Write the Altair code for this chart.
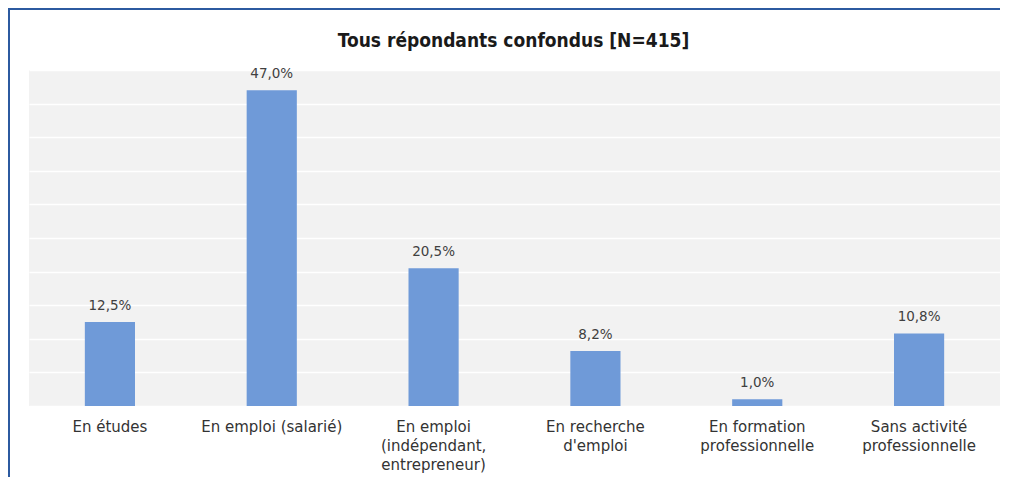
import altair as alt
import pandas as pd

categories = [
    "En études",
    "En emploi (salarié)",
    "En emploi\n(indépendant,\nentrepreneur)",
    "En recherche\nd'emploi",
    "En formation\nprofessionnelle",
    "Sans activité\nprofessionnelle",
]
values = [12.5, 47.0, 20.5, 8.2, 1.0, 10.8]
value_labels = ["12,5%", "47,0%", "20,5%", "8,2%", "1,0%", "10,8%"]
title_text = "Tous répondants confondus [N=415]"

df = pd.DataFrame({"cat": categories, "val": values, "lab": value_labels})
title_df = pd.DataFrame({"t": [title_text]})

FONT = "DejaVu Sans"
FRAME = "#2c5aa0"

x = alt.X(
    "cat:N",
    sort=categories,
    scale=alt.Scale(paddingInner=0.69, paddingOuter=0.345),
    axis=alt.Axis(
        title=None,
        labelAngle=0,
        ticks=False,
        domain=False,
        labelFont=FONT,
        labelFontSize=15,
        labelColor="#333333",
        labelPadding=13,
        labelBaseline="top",
        labelLineHeight=19,
        labelExpr="split(datum.label, '\\n')",
    ),
)
y = alt.Y(
    "val:Q",
    scale=alt.Scale(domain=[0, 50]),
    axis=alt.Axis(
        title=None,
        labels=False,
        ticks=False,
        domain=False,
        grid=True,
        gridColor="#ffffff",
        gridWidth=1.5,
        values=list(range(0, 55, 5)),
    ),
)

bars = alt.Chart(df).mark_bar(color="#6f9ad8").encode(x=x, y=y)
texts = alt.Chart(df).mark_text(
    dy=-9, baseline="bottom", font=FONT, fontSize=13.5, color="#404040"
).encode(x=x, y=y, text="lab:N")

title = alt.Chart(title_df).mark_text(
    font="DejaVu Sans Condensed",
    fontSize=19,
    fontWeight="bold",
    color="#1a1a1a",
    align="center",
    baseline="alphabetic",
).encode(x=alt.value(484.5), y=alt.value(-23), text="t:N")

top_strip = alt.Chart(title_df).mark_rule(color=FRAME, strokeWidth=2).encode(
    x=alt.value(-21), x2=alt.value(971), y=alt.value(-61)
)
left_strip = alt.Chart(title_df).mark_rule(color=FRAME, strokeWidth=2).encode(
    x=alt.value(-20), y=alt.value(-62), y2=alt.value(407)
)

chart = (
    alt.layer(bars, texts, title, top_strip, left_strip)
    .properties(
        width=971,
        height=336,
        autosize=alt.AutoSizeParams(type="none"),
        padding={"left": 21, "top": 62, "right": 2, "bottom": 71},
        background="#ffffff",
    )
    .configure_view(fill="#f2f2f2", stroke=None)
)

chart.save("out.html", embed_options={"renderer": "svg", "actions": False})
